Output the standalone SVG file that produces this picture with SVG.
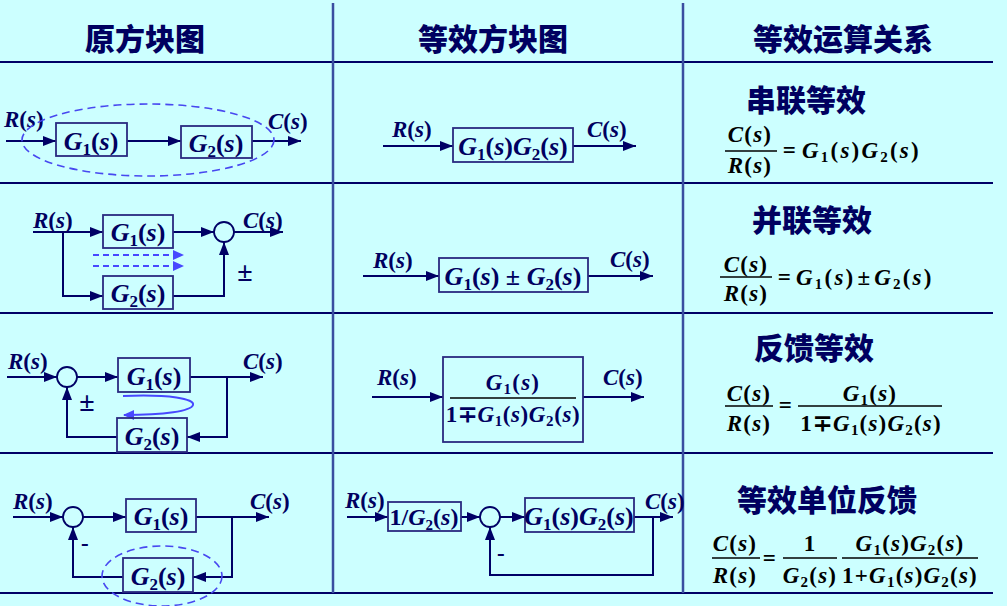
<svg xmlns="http://www.w3.org/2000/svg" width="1007" height="606" viewBox="0 0 1007 606">
<defs>
<style>
.bg{fill:#ccffff}
.hl{stroke:#000066;stroke-width:2}
.vl{stroke:#3a4ea0;stroke-width:2.5}
.hd{font-family:"Noto Sans CJK SC","Noto Sans",sans-serif;font-weight:900;font-size:30px;fill:#000060}
.m{font-family:"Liberation Serif","Times New Roman",serif;font-weight:bold;font-style:italic;font-size:23px;fill:#000060}
.mb{font-family:"Liberation Serif","Times New Roman",serif;font-weight:bold;font-style:italic;font-size:26px;fill:#000060}
.f{font-family:"Liberation Serif","Times New Roman",serif;font-weight:bold;font-style:italic;font-size:23px;fill:#000000;letter-spacing:1.2px}
.nv{fill:#000060}
.u{font-style:normal}
.sb{font-size:15px;font-style:normal}
.sbb{font-size:17px;font-style:normal}
.pm{font-family:"Liberation Serif","Times New Roman",serif;font-weight:bold;font-size:28px;fill:#000060}
.box{fill:none;stroke:#2a2a80;stroke-width:1.8}
.ar{fill:none;stroke:#000066;stroke-width:2;marker-end:url(#ah)}
.sum{fill:none;stroke:#000066;stroke-width:1.8}
.bar{stroke:#000000;stroke-width:1.5}
.dsh{fill:none;stroke:#4848f0;stroke-width:1.6;stroke-dasharray:8 5}
.bl{fill:none;stroke:#4848ff;stroke-width:2;stroke-dasharray:6 4;marker-end:url(#bh)}
.cv{fill:none;stroke:#4848ff;stroke-width:2;marker-end:url(#bh)}
</style>
<marker id="ah" markerUnits="userSpaceOnUse" markerWidth="13" markerHeight="10" refX="13" refY="5" orient="auto"><path d="M0,0 L13,5 L0,10 z" fill="#000066"/></marker>
<marker id="bh" markerUnits="userSpaceOnUse" markerWidth="11" markerHeight="10" refX="10" refY="5" orient="auto"><path d="M0,0 L11,5 L0,10 z" fill="#4848ff"/></marker>
</defs>
<rect class="bg" x="0" y="0" width="1007" height="606"/>
<g id="grid">
<line class="hl" x1="0" y1="62" x2="993" y2="62"/>
<line class="hl" x1="0" y1="183" x2="993" y2="183"/>
<line class="hl" x1="0" y1="313" x2="993" y2="313"/>
<line class="hl" x1="0" y1="453" x2="993" y2="453"/>
<line class="hl" x1="0" y1="593" x2="993" y2="593"/>
<line class="vl" x1="333" y1="3" x2="333" y2="593"/>
<line class="vl" x1="683" y1="3" x2="683" y2="593"/>
</g>
<g id="headers">
<text class="hd" x="145" y="50" text-anchor="middle">原方块图</text>
<text class="hd" x="493" y="50" text-anchor="middle">等效方块图</text>
<text class="hd" x="843" y="50" text-anchor="middle">等效运算关系</text>
</g>

<g id="connectors">
<line class="ar" x1="6" y1="141" x2="56" y2="141"/>
<line class="ar" x1="127" y1="141" x2="181" y2="141"/>
<line class="ar" x1="252" y1="141" x2="301" y2="141"/>
<line class="ar" x1="383" y1="146" x2="453" y2="146"/>
<line class="ar" x1="573" y1="146" x2="636" y2="146"/>
<line class="ar" x1="33" y1="232" x2="103" y2="232"/>
<polyline class="ar" points="63,232 63,296 103,296"/>
<line class="ar" x1="173" y1="232" x2="214" y2="232"/>
<line class="ar" x1="234" y1="232" x2="283" y2="232"/>
<polyline class="ar" points="173,296 224,296 224,242"/>
<line class="bl" x1="93" y1="255" x2="183" y2="255"/>
<line class="bl" x1="93" y1="266" x2="183" y2="266"/>
<line class="ar" x1="363" y1="276" x2="439" y2="276"/>
<line class="ar" x1="588" y1="276" x2="653" y2="276"/>
<line class="ar" x1="7" y1="377" x2="57" y2="377"/>
<line class="ar" x1="77" y1="377" x2="118" y2="377"/>
<line class="ar" x1="190" y1="377" x2="263" y2="377"/>
<polyline class="ar" points="227,377 227,437 187,437"/>
<polyline class="ar" points="117,437 67,437 67,387"/>
<path class="cv" d="M123,396 C170,394 195,399 193,405 C191,411 165,415 124,415"/>
<line class="ar" x1="372" y1="397" x2="443" y2="397"/>
<line class="ar" x1="583" y1="397" x2="644" y2="397"/>
<line class="ar" x1="13" y1="517" x2="63" y2="517"/>
<line class="ar" x1="83" y1="517" x2="126" y2="517"/>
<line class="ar" x1="196" y1="517" x2="269" y2="517"/>
<polyline class="ar" points="232,517 232,577 193,577"/>
<polyline class="ar" points="123,577 73,577 73,527"/>
<line class="ar" x1="347" y1="517" x2="388" y2="517"/>
<line class="ar" x1="461" y1="517" x2="480" y2="517"/>
<line class="ar" x1="500" y1="517" x2="525" y2="517"/>
<line class="ar" x1="634" y1="517" x2="673" y2="517"/>
<polyline class="ar" points="653,517 653,575 490,575 490,527"/>
</g>

<!-- Row 1 -->
<g id="r1-labels">
<text class="m" x="4" y="127">R<tspan class="u">(</tspan>s<tspan class="u">)</tspan></text>
<text class="m" x="268" y="129">C<tspan class="u">(</tspan>s<tspan class="u">)</tspan></text>
<ellipse class="dsh" cx="148" cy="140" rx="126" ry="36"/>
</g>
<g id="r1-G1">
<rect class="box" x="56" y="123" width="71" height="33"/>
<text class="mb" x="91" y="150" text-anchor="middle">G<tspan class="sbb" dy="5">1</tspan><tspan class="u" dy="-5">(</tspan>s<tspan class="u">)</tspan></text>
</g>
<g id="r1-G2">
<rect class="box" x="181" y="126" width="71" height="32"/>
<text class="mb" x="216" y="152" text-anchor="middle">G<tspan class="sbb" dy="5">2</tspan><tspan class="u" dy="-5">(</tspan>s<tspan class="u">)</tspan></text>
</g>
<g id="r1-eq">
<text class="m" x="392" y="137">R<tspan class="u">(</tspan>s<tspan class="u">)</tspan></text>
<rect class="box" x="453" y="128" width="120" height="34"/>
<text class="mb" x="513" y="155" text-anchor="middle">G<tspan class="sbb" dy="5">1</tspan><tspan class="u" dy="-5">(</tspan>s<tspan class="u">)</tspan>G<tspan class="sbb" dy="5">2</tspan><tspan class="u" dy="-5">(</tspan>s<tspan class="u">)</tspan></text>
<text class="m" x="587" y="137">C<tspan class="u">(</tspan>s<tspan class="u">)</tspan></text>
</g>
<g id="r1-rel">
<text class="hd" x="806" y="111" text-anchor="middle">串联等效</text>
<text class="f" x="750" y="142" text-anchor="middle">C<tspan class="u">(</tspan>s<tspan class="u">)</tspan></text>
<line class="bar" x1="725" y1="151" x2="777" y2="151"/>
<text class="f" x="750" y="173" text-anchor="middle">R<tspan class="u">(</tspan>s<tspan class="u">)</tspan></text>
<text class="f" x="790" y="158" text-anchor="middle"><tspan class="u">=</tspan></text>
<text class="f" x="802" y="158" style="letter-spacing:2.2px">G<tspan class="sb" dy="4">1</tspan><tspan class="u" dy="-4">(</tspan>s<tspan class="u">)</tspan>G<tspan class="sb" dy="4">2</tspan><tspan class="u" dy="-4">(</tspan>s<tspan class="u">)</tspan></text>
</g>

<!-- Row 2 -->
<g id="r2-labels">
<text class="m" x="33" y="228">R<tspan class="u">(</tspan>s<tspan class="u">)</tspan></text>
<text class="m" x="243" y="228">C<tspan class="u">(</tspan>s<tspan class="u">)</tspan></text>
<text class="pm" x="245" y="281" text-anchor="middle">±</text>
</g>
<g id="r2-G1">
<rect class="box" x="103" y="215" width="70" height="33"/>
<text class="mb" x="138" y="241" text-anchor="middle">G<tspan class="sbb" dy="5">1</tspan><tspan class="u" dy="-5">(</tspan>s<tspan class="u">)</tspan></text>
</g>
<g id="r2-G2">
<rect class="box" x="103" y="276" width="70" height="33"/>
<text class="mb" x="138" y="302" text-anchor="middle">G<tspan class="sbb" dy="5">2</tspan><tspan class="u" dy="-5">(</tspan>s<tspan class="u">)</tspan></text>
</g>
<g id="r2-sum"><circle class="sum" cx="224" cy="232" r="10"/></g>
<g id="r2-eq">
<text class="m" x="373" y="268">R<tspan class="u">(</tspan>s<tspan class="u">)</tspan></text>
<rect class="box" x="439" y="258" width="149" height="34"/>
<text class="mb" x="513" y="285" text-anchor="middle">G<tspan class="sbb" dy="5">1</tspan><tspan class="u" dy="-5">(</tspan>s<tspan class="u">) ± </tspan>G<tspan class="sbb" dy="5">2</tspan><tspan class="u" dy="-5">(</tspan>s<tspan class="u">)</tspan></text>
<text class="m" x="610" y="267">C<tspan class="u">(</tspan>s<tspan class="u">)</tspan></text>
</g>
<g id="r2-rel">
<text class="hd" x="812" y="231" text-anchor="middle">并联等效</text>
<text class="f" x="746" y="272" text-anchor="middle">C<tspan class="u">(</tspan>s<tspan class="u">)</tspan></text>
<line class="bar" x1="720" y1="277" x2="772" y2="277"/>
<text class="f" x="746" y="301" text-anchor="middle">R<tspan class="u">(</tspan>s<tspan class="u">)</tspan></text>
<text class="f" x="785" y="285" text-anchor="middle"><tspan class="u">=</tspan></text>
<text class="f" x="796" y="285" style="letter-spacing:2.2px">G<tspan class="sb" dy="4">1</tspan><tspan class="u" dy="-4">(</tspan>s<tspan class="u">)</tspan><tspan class="u" dx="2">±</tspan><tspan dx="2">G</tspan><tspan class="sb" dy="4">2</tspan><tspan class="u" dy="-4">(</tspan>s<tspan class="u">)</tspan></text>
</g>

<!-- Row 3 -->
<g id="r3-labels">
<text class="m" x="8" y="369">R<tspan class="u">(</tspan>s<tspan class="u">)</tspan></text>
<text class="m" x="243" y="369">C<tspan class="u">(</tspan>s<tspan class="u">)</tspan></text>
<text class="pm" x="87" y="411" text-anchor="middle">±</text>
</g>
<g id="r3-sum"><circle class="sum" cx="67" cy="377" r="10"/></g>
<g id="r3-G1">
<rect class="box" x="118" y="358" width="72" height="34"/>
<text class="mb" x="154" y="385" text-anchor="middle">G<tspan class="sbb" dy="5">1</tspan><tspan class="u" dy="-5">(</tspan>s<tspan class="u">)</tspan></text>
</g>
<g id="r3-G2">
<rect class="box" x="117" y="418" width="70" height="34"/>
<text class="mb" x="152" y="445" text-anchor="middle">G<tspan class="sbb" dy="5">2</tspan><tspan class="u" dy="-5">(</tspan>s<tspan class="u">)</tspan></text>
</g>
<g id="r3-eq">
<text class="m" x="377" y="385">R<tspan class="u">(</tspan>s<tspan class="u">)</tspan></text>
<rect class="box" x="443" y="357" width="140" height="85"/>
<text class="f nv" x="513" y="390" text-anchor="middle">G<tspan class="sb" dy="4">1</tspan><tspan class="u" dy="-4">(</tspan>s<tspan class="u">)</tspan></text>
<line class="bar" x1="450" y1="398" x2="576" y2="398"/>
<text class="f nv" x="513" y="422" text-anchor="middle" style="letter-spacing:0.6px"><tspan class="u">1∓</tspan>G<tspan class="sb" dy="4">1</tspan><tspan class="u" dy="-4">(</tspan>s<tspan class="u">)</tspan>G<tspan class="sb" dy="4">2</tspan><tspan class="u" dy="-4">(</tspan>s<tspan class="u">)</tspan></text>
<text class="m" x="603" y="385">C<tspan class="u">(</tspan>s<tspan class="u">)</tspan></text>
</g>
<g id="r3-rel">
<text class="hd" x="814" y="359" text-anchor="middle">反馈等效</text>
<text class="f" x="749" y="401" text-anchor="middle">C<tspan class="u">(</tspan>s<tspan class="u">)</tspan></text>
<line class="bar" x1="725" y1="406" x2="773" y2="406"/>
<text class="f" x="749" y="431" text-anchor="middle">R<tspan class="u">(</tspan>s<tspan class="u">)</tspan></text>
<text class="f" x="786" y="413" text-anchor="middle"><tspan class="u">=</tspan></text>
<text class="f" x="870" y="401" text-anchor="middle">G<tspan class="sb" dy="4">1</tspan><tspan class="u" dy="-4">(</tspan>s<tspan class="u">)</tspan></text>
<line class="bar" x1="798" y1="406" x2="942" y2="406"/>
<text class="f" x="871" y="431" text-anchor="middle"><tspan class="u">1∓</tspan>G<tspan class="sb" dy="4">1</tspan><tspan class="u" dy="-4">(</tspan>s<tspan class="u">)</tspan>G<tspan class="sb" dy="4">2</tspan><tspan class="u" dy="-4">(</tspan>s<tspan class="u">)</tspan></text>
</g>

<!-- Row 4 -->
<g id="r4-labels">
<text class="m" x="13" y="509">R<tspan class="u">(</tspan>s<tspan class="u">)</tspan></text>
<text class="m" x="250" y="509">C<tspan class="u">(</tspan>s<tspan class="u">)</tspan></text>
<text class="m" x="81" y="551"><tspan class="u">-</tspan></text>
<ellipse class="dsh" cx="162" cy="576" rx="60" ry="30"/>
</g>
<g id="r4-sum"><circle class="sum" cx="73" cy="517" r="10"/></g>
<g id="r4-G1">
<rect class="box" x="126" y="499" width="70" height="33"/>
<text class="mb" x="161" y="525" text-anchor="middle">G<tspan class="sbb" dy="5">1</tspan><tspan class="u" dy="-5">(</tspan>s<tspan class="u">)</tspan></text>
</g>
<g id="r4-G2">
<rect class="box" x="123" y="558" width="70" height="34"/>
<text class="mb" x="158" y="585" text-anchor="middle">G<tspan class="sbb" dy="5">2</tspan><tspan class="u" dy="-5">(</tspan>s<tspan class="u">)</tspan></text>
</g>
<g id="r4-eq">
<text class="m" x="345" y="508">R<tspan class="u">(</tspan>s<tspan class="u">)</tspan></text>
<rect class="box" x="388" y="502" width="73" height="29"/>
<text class="mb" x="424" y="525" text-anchor="middle" style="font-size:24px"><tspan class="u">1/</tspan>G<tspan class="sb" dy="5">2</tspan><tspan class="u" dy="-5">(</tspan>s<tspan class="u">)</tspan></text>
<circle class="sum" cx="490" cy="517" r="10"/>
<rect class="box" x="525" y="498" width="109" height="34"/>
<text class="mb" x="579" y="525" text-anchor="middle">G<tspan class="sbb" dy="5">1</tspan><tspan class="u" dy="-5">(</tspan>s<tspan class="u">)</tspan>G<tspan class="sbb" dy="5">2</tspan><tspan class="u" dy="-5">(</tspan>s<tspan class="u">)</tspan></text>
<text class="m" x="645" y="509">C<tspan class="u">(</tspan>s<tspan class="u">)</tspan></text>
<text class="m" x="497" y="561"><tspan class="u">-</tspan></text>
</g>
<g id="r4-rel">
<text class="hd" x="827" y="511" text-anchor="middle">等效单位反馈</text>
<text class="f" x="735" y="551" text-anchor="middle">C<tspan class="u">(</tspan>s<tspan class="u">)</tspan></text>
<line class="bar" x1="712" y1="558" x2="760" y2="558"/>
<text class="f" x="735" y="583" text-anchor="middle">R<tspan class="u">(</tspan>s<tspan class="u">)</tspan></text>
<text class="f" x="770" y="566" text-anchor="middle"><tspan class="u">=</tspan></text>
<text class="f" x="810" y="551" text-anchor="middle"><tspan class="u">1</tspan></text>
<line class="bar" x1="783" y1="558" x2="837" y2="558"/>
<text class="f" x="810" y="583" text-anchor="middle">G<tspan class="sb" dy="4">2</tspan><tspan class="u" dy="-4">(</tspan>s<tspan class="u">)</tspan></text>
<text class="f" x="910" y="551" text-anchor="middle">G<tspan class="sb" dy="4">1</tspan><tspan class="u" dy="-4">(</tspan>s<tspan class="u">)</tspan>G<tspan class="sb" dy="4">2</tspan><tspan class="u" dy="-4">(</tspan>s<tspan class="u">)</tspan></text>
<line class="bar" x1="842" y1="558" x2="978" y2="558"/>
<text class="f" x="910" y="583" text-anchor="middle"><tspan class="u">1+</tspan>G<tspan class="sb" dy="4">1</tspan><tspan class="u" dy="-4">(</tspan>s<tspan class="u">)</tspan>G<tspan class="sb" dy="4">2</tspan><tspan class="u" dy="-4">(</tspan>s<tspan class="u">)</tspan></text>
</g>
</svg>
